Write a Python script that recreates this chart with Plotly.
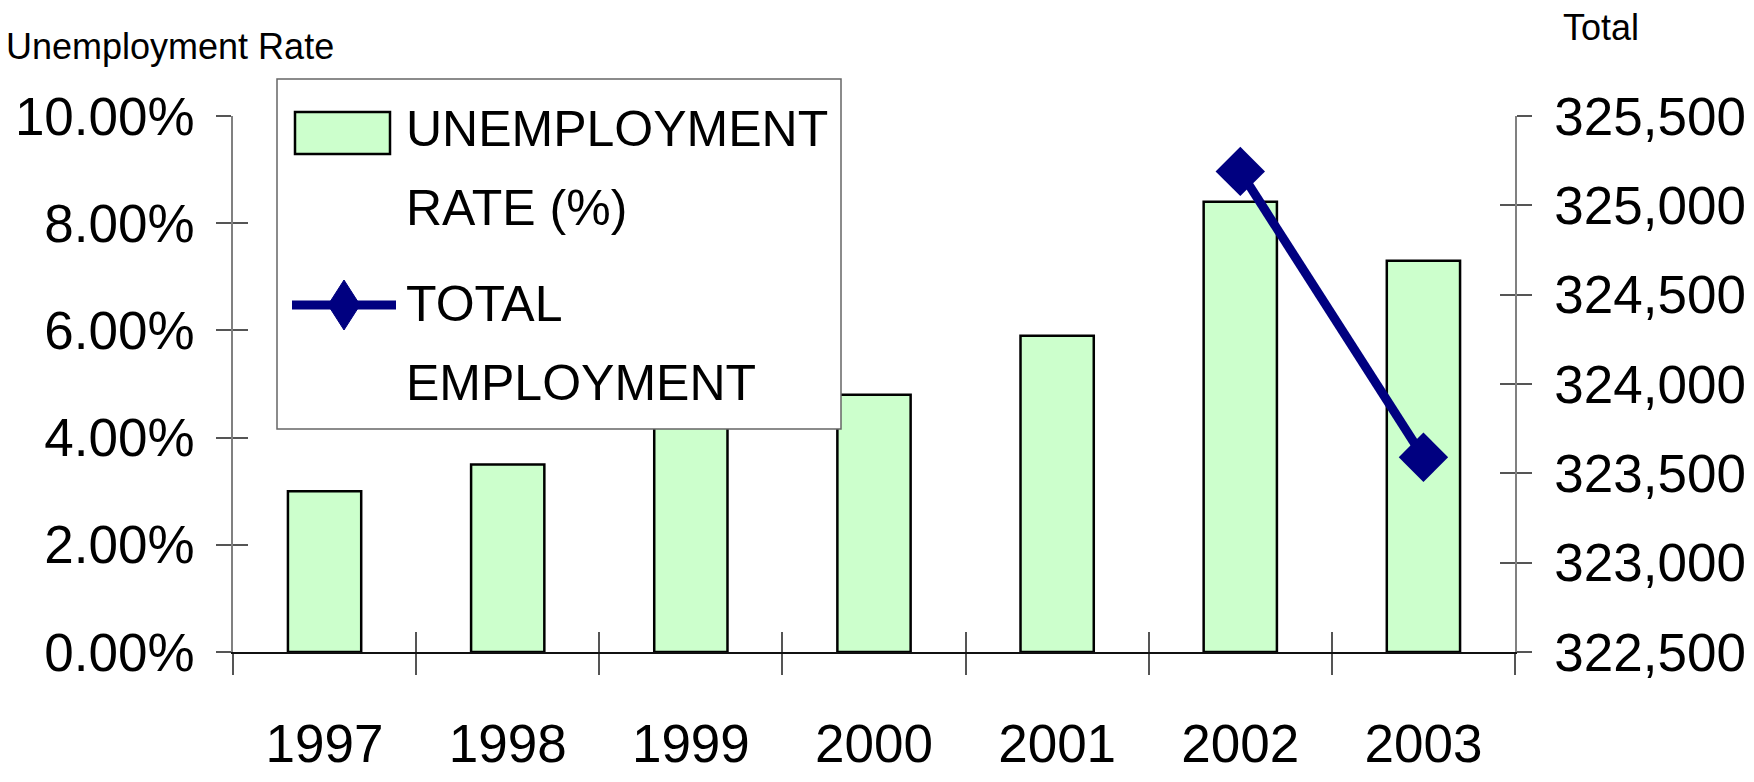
import plotly.graph_objects as go

# ---- data -------------------------------------------------------------
years = ["1997", "1998", "1999", "2000", "2001", "2002", "2003"]
unemployment_rate = [0.030, 0.035, 0.045, 0.048, 0.059, 0.084, 0.073]

employment_years = ["2002", "2003"]
total_employment = [325190, 323590]

rate_ticks = [0.0, 0.02, 0.04, 0.06, 0.08, 0.10]
total_ticks = [322500, 323000, 323500, 324000, 324500, 325000, 325500]

# ---- page geometry (margins are zero, so paper units map to pixels) ----
W, H = 1754, 782


def px(x):
    return x / W


def py(y):
    return 1 - y / H


X_DOMAIN = [px(233), px(1515)]
Y_DOMAIN = [py(652), py(116)]
FONT = "Liberation Sans, Arial, sans-serif"
BAR_FILL = "#CCFFCC"
NAVY = "#000080"
TICK_COLOR = "#555555"

boundaries = [i - 0.5 for i in range(len(years) + 1)]

fig = go.Figure()

fig.add_trace(go.Bar(
    x=years, y=unemployment_rate, width=0.4,
    marker=dict(color=BAR_FILL, line=dict(color="black", width=2.5)),
    name="UNEMPLOYMENT RATE (%)", showlegend=False,
))
fig.add_trace(go.Scatter(
    x=employment_years, y=total_employment, yaxis="y2",
    mode="lines+markers",
    line=dict(color=NAVY, width=9),
    marker=dict(symbol="diamond", size=38, color=NAVY),
    name="TOTAL EMPLOYMENT", showlegend=False,
))
# empty traces that carry the inner halves of the crossing tick marks
fig.add_trace(go.Scatter(x=[None], y=[None], xaxis="x3", yaxis="y3",
                         showlegend=False, hoverinfo="skip"))
fig.add_trace(go.Scatter(x=[None], y=[None], xaxis="x3", yaxis="y4",
                         showlegend=False, hoverinfo="skip"))

tickfont = dict(family=FONT, size=53, color="black")
common = dict(showgrid=False, zeroline=False, automargin=False)

fig.update_layout(
    template="none",
    width=W, height=H,
    margin=dict(l=0, r=0, t=0, b=0, pad=0, autoexpand=False),
    paper_bgcolor="white", plot_bgcolor="white",
    showlegend=False,
    xaxis=dict(
        type="category", domain=X_DOMAIN, anchor="y",
        range=[-0.5, len(years) - 0.5],
        showline=True, linecolor="#111111", linewidth=1.5,
        ticks="outside", tickson="boundaries", ticklen=21,
        tickcolor=TICK_COLOR, tickwidth=1.5,
        tickfont=tickfont, ticklabelstandoff=45, **common,
    ),
    xaxis3=dict(
        overlaying="x", anchor="y", domain=X_DOMAIN, type="linear",
        range=[-0.5, len(years) - 0.5], tickvals=boundaries,
        ticks="inside", ticklen=20, tickcolor=TICK_COLOR, tickwidth=1.5,
        showticklabels=False, showline=False, **common,
    ),
    yaxis=dict(
        domain=Y_DOMAIN, anchor="x", range=[0, 0.10],
        tickvals=rate_ticks, tickformat=".2%",
        showline=True, linecolor="#808080", linewidth=1.5,
        ticks="outside", ticklen=15, tickcolor=TICK_COLOR, tickwidth=1.5,
        tickfont=tickfont, ticklabelstandoff=11, **common,
    ),
    yaxis3=dict(
        overlaying="y", anchor="x", side="left", range=[0, 0.10],
        tickvals=rate_ticks, ticks="inside", ticklen=15,
        tickcolor=TICK_COLOR, tickwidth=1.5,
        showticklabels=False, showline=False, **common,
    ),
    yaxis2=dict(
        overlaying="y", anchor="x", side="right",
        range=[322500, 325500], tickvals=total_ticks, tickformat=",",
        showline=True, linecolor="#808080", linewidth=1.5,
        ticks="outside", ticklen=15, tickcolor=TICK_COLOR, tickwidth=1.5,
        tickfont=tickfont, ticklabelstandoff=12, **common,
    ),
    yaxis4=dict(
        overlaying="y", anchor="x", side="right",
        range=[322500, 325500], tickvals=total_ticks,
        ticks="inside", ticklen=15, tickcolor=TICK_COLOR, tickwidth=1.5,
        showticklabels=False, showline=False, **common,
    ),
)

# ---- legend box drawn over the plot area ----
dx, dy = 344, 305
diamond = (f"M{px(dx)},{py(dy - 25)} L{px(dx + 16)},{py(dy)} "
           f"L{px(dx)},{py(dy + 25)} L{px(dx - 16)},{py(dy)} Z")
fig.update_layout(shapes=[
    dict(type="rect", xref="paper", yref="paper", layer="above",
         x0=px(277), x1=px(841), y0=py(429), y1=py(79),
         line=dict(color="#666666", width=1.5), fillcolor="white"),
    dict(type="rect", xref="paper", yref="paper", layer="above",
         x0=px(295), x1=px(390), y0=py(154), y1=py(112),
         line=dict(color="black", width=2.5), fillcolor=BAR_FILL),
    dict(type="line", xref="paper", yref="paper", layer="above",
         x0=px(292), x1=px(396), y0=py(dy), y1=py(dy),
         line=dict(color=NAVY, width=9)),
    dict(type="path", xref="paper", yref="paper", layer="above",
         path=diamond, fillcolor=NAVY, line=dict(color=NAVY, width=1)),
])

legend_font = dict(family=FONT, size=50, color="black")
title_font = dict(family=FONT, size=36, color="black")
legend_lines = [("UNEMPLOYMENT", 129), ("RATE (%)", 208),
                ("TOTAL", 304), ("EMPLOYMENT", 383)]
annotations = [
    dict(text=t, xref="paper", yref="paper", x=px(404), y=py(yc),
         xanchor="left", yanchor="middle", showarrow=False, font=legend_font)
    for t, yc in legend_lines
]
annotations += [
    dict(text="Unemployment Rate", xref="paper", yref="paper",
         x=px(4), y=py(46), xanchor="left", yanchor="middle",
         showarrow=False, font=title_font),
    dict(text="Total", xref="paper", yref="paper",
         x=px(1561), y=py(28), xanchor="left", yanchor="middle",
         showarrow=False, font=title_font),
]
fig.update_layout(annotations=annotations)

fig.write_html("out.html")
